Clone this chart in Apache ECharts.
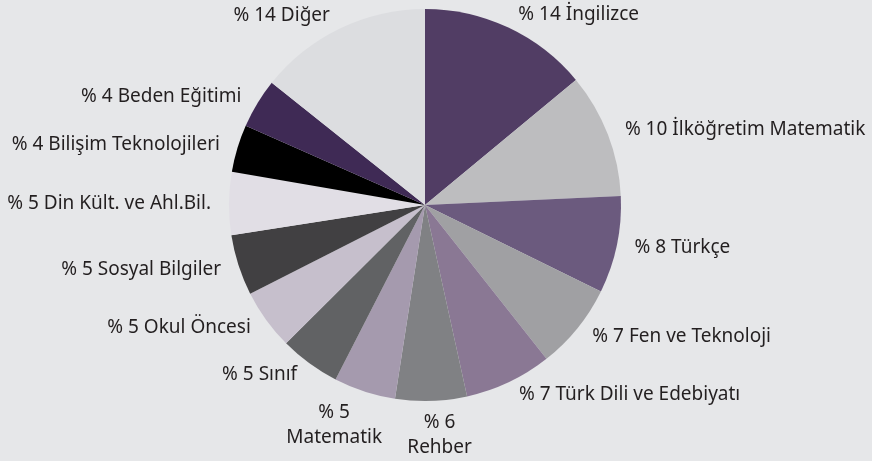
<!DOCTYPE html>
<html lang="tr">
<head>
    <meta charset="UTF-8">
    <title>branşlar</title>
    <style>
        html,
        body {
            margin: 0;
            padding: 0;
            width: 100%;
            height: 100%;
            background: #e6e7e9;
        }

        #chart {
            width: 872px;
            height: 461px;
        }
    </style>
</head>
<body>
<div id="chart"></div>
<script src="https://cdn.jsdelivr.net/npm/echarts@6/dist/echarts.min.js"></script>
<script>
    // slices clockwise from 12 o'clock
    const names = [
        'İngilizce', 'İlköğretim Matematik', 'Türkçe', 'Fen ve Teknoloji',
        'Türk Dili ve Edebiyatı', 'Rehber', 'Matematik', 'Sınıf', 'Okul Öncesi',
        'Sosyal Bilgiler', 'Din Kült. ve Ahl.Bil.', 'Bilişim Teknolojileri',
        'Beden Eğitimi', 'Diğer'
    ]
    // shares
    const values = [14, 10.3, 8, 7.1, 7.2, 5.9, 5.1, 5, 5, 5, 5.2, 3.9, 4.1, 14.3]
    const colors = [
        '#513d64', '#bdbdbf', '#6b5a7e', '#a0a0a3', '#8a7894', '#808184', '#a59aae',
        '#616264', '#c6bfcc', '#414042', '#e1dee5', '#000000', '#3f2a55', '#dcdde0'
    ]
    // labels written on two lines, centred under the slice
    const twoLine = ['Matematik', 'Rehber']

    const chart = echarts.init(document.getElementById('chart'))

    chart.setOption({
        backgroundColor: '#e6e7e9',
        animation: false,
        series: [{
            type: 'pie',
            center: [425, 205],
            radius: 196,
            startAngle: 90,
            avoidLabelOverlap: false,
            data: names.map((n, i) => ({
                name: n,
                value: values[i],
                itemStyle: { color: colors[i] }
            })),
            label: {
                show: true,
                position: 'outside',
                color: '#231f20',
                fontFamily: 'Noto Sans',
                fontSize: 19,
                lineHeight: 25,
                distanceToLabelLine: 4,
                formatter: p => {
                    const pct = '% ' + Math.round(p.value)
                    return twoLine.includes(p.name) ? pct + '\n' + p.name : pct + ' ' + p.name
                }
            },
            labelLine: {
                show: false,
                length: 14,
                length2: 0
            },
            labelLayout: p => {
                const n = names[p.dataIndex]
                if (n === 'Matematik') {
                    return { align: 'center', verticalAlign: 'top', dx: -22, dy: -5 }
                }
                if (n === 'Rehber') {
                    return { align: 'center', verticalAlign: 'top', dx: 4, dy: -5 }
                }
            }
        }]
    })
</script>
</body>
</html>
